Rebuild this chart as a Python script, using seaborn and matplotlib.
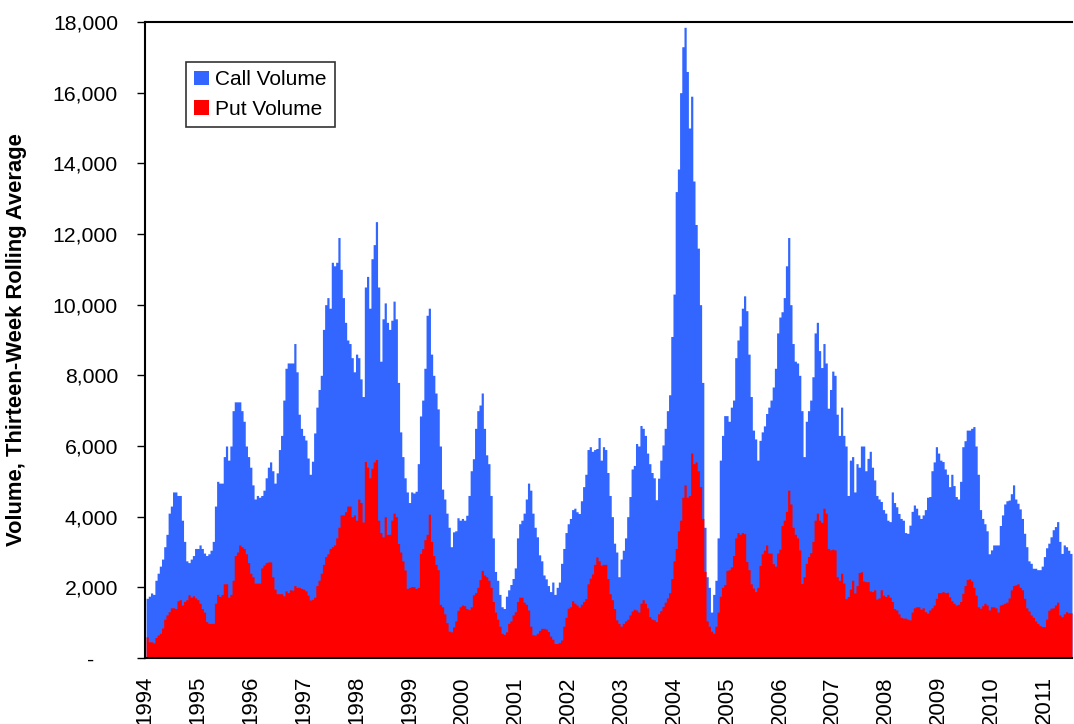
import numpy as np
import pandas as pd
import seaborn as sns
import matplotlib.pyplot as plt
from matplotlib.patches import Patch
from matplotlib.ticker import FuncFormatter

# 13-week rolling average volume, in thousands
# two values per month (first half / second half), Jan 1994 - Jun 2011
call_k = [
    1.69, 1.75, 1.84, 1.8, 2.2, 2.4, 2.6, 2.8, 3.15, 3.5, 4.1, 4.3, 4.7, 4.7, 4.6, 4.6, 3.9, 3.3, 2.75, 2.7, 2.8, 2.9, 3.1, 3.1,  # 1994
    3.2, 3.1, 2.97, 2.9, 2.95, 3.05, 3.3, 4.3, 5.0, 4.95, 4.95, 5.7, 6.0, 5.6, 6.0, 7.0, 7.25, 7.25, 7.25, 7.0, 6.7, 6.0, 5.7, 5.4,  # 1995
    4.9, 4.5, 4.6, 4.55, 4.6, 4.75, 5.1, 5.4, 5.55, 5.3, 4.95, 5.24, 5.9, 6.3, 7.3, 8.2, 8.35, 8.35, 8.35, 8.9, 8.1, 6.9, 6.5, 6.3,  # 1996
    6.17, 5.66, 5.2, 5.57, 6.37, 7.1, 7.6, 8.0, 9.3, 10.0, 10.2, 9.9, 11.2, 11.1, 11.2, 11.9, 11.0, 10.2, 9.5, 9.0, 8.9, 8.5, 8.1, 8.6,  # 1997
    8.5, 7.9, 7.4, 10.5, 10.8, 9.9, 11.3, 11.7, 12.35, 10.5, 8.4, 9.6, 10.05, 9.5, 9.3, 9.56, 10.1, 9.6, 7.8, 6.4, 5.7, 5.1, 4.7, 4.4,  # 1998
    4.7, 4.67, 4.72, 5.5, 6.85, 7.3, 8.2, 9.7, 9.9, 8.6, 8.0, 7.5, 7.05, 6.0, 4.78, 4.5, 4.1, 3.7, 3.15, 3.57, 3.6, 3.97, 3.9, 3.95,  # 1999
    3.9, 4.04, 4.6, 5.3, 5.64, 6.5, 7.0, 7.16, 7.5, 6.5, 5.75, 5.5, 4.6, 3.4, 2.45, 2.2, 1.8, 1.45, 1.4, 1.75, 1.93, 2.08, 2.25, 2.55,  # 2000
    3.4, 3.8, 3.9, 4.1, 4.5, 4.95, 4.75, 4.1, 3.7, 3.43, 2.92, 2.75, 2.35, 2.24, 2.05, 1.88, 2.15, 1.8, 2.0, 2.15, 2.68, 3.1, 3.55, 3.8,  # 2001
    3.95, 4.2, 4.24, 4.14, 4.09, 4.45, 4.85, 5.2, 5.9, 5.98, 5.85, 5.9, 5.93, 6.24, 5.6, 5.98, 5.9, 5.25, 4.6, 4.0, 3.25, 3.0, 2.3, 2.8,  # 2002
    3.05, 3.4, 4.0, 4.57, 5.35, 5.45, 6.07, 6.0, 6.58, 6.5, 6.3, 5.8, 5.5, 5.25, 5.1, 4.48, 5.09, 5.6, 6.03, 6.5, 7.0, 7.45, 9.1, 10.3,  # 2003
    13.2, 13.84, 16.0, 17.3, 17.85, 16.6, 15.0, 15.9, 13.5, 12.27, 11.6, 10.0, 7.8, 3.7, 2.3, 2.0, 1.3, 1.8, 2.2, 3.4, 5.6, 6.3, 6.86, 6.86,  # 2004
    6.7, 7.1, 7.3, 8.5, 9.0, 9.4, 9.9, 10.25, 9.83, 8.6, 7.4, 6.45, 6.2, 5.6, 6.16, 6.4, 6.57, 6.92, 7.1, 7.3, 7.67, 8.2, 9.2, 9.65,  # 2005
    9.8, 10.2, 11.1, 11.9, 10.0, 8.9, 8.4, 8.35, 8.0, 7.0, 5.7, 6.7, 7.0, 7.3, 7.96, 9.2, 9.5, 8.7, 8.22, 8.9, 8.35, 7.07, 7.6, 8.12,  # 2006
    8.0, 6.9, 6.3, 7.1, 6.3, 6.0, 4.6, 5.6, 5.7, 4.7, 5.5, 5.4, 6.0, 6.0, 5.3, 5.65, 5.85, 5.4, 5.04, 4.6, 4.5, 4.43, 4.2, 4.1,  # 2007
    3.9, 3.86, 4.7, 4.4, 4.28, 4.09, 3.95, 3.9, 3.55, 3.53, 3.76, 4.15, 4.33, 4.24, 4.05, 3.95, 4.05, 4.2, 4.55, 4.57, 5.3, 5.55, 5.98, 5.8,  # 2008
    5.6, 5.56, 5.35, 5.2, 4.85, 5.2, 4.88, 4.57, 4.5, 5.0, 5.98, 6.15, 6.45, 6.45, 6.5, 6.55, 6.0, 5.2, 4.2, 3.95, 3.8, 3.6, 2.95, 3.06,  # 2009
    3.2, 3.2, 3.2, 3.75, 4.05, 4.36, 4.45, 4.47, 4.65, 4.9, 4.5, 4.38, 4.22, 3.95, 3.53, 3.15, 2.75, 2.68, 2.54, 2.54, 2.5, 2.5, 2.6, 2.87,  # 2010
    3.12, 3.25, 3.43, 3.63, 3.72, 3.86, 3.3, 2.96, 3.2, 3.15, 3.05, 2.96,  # 2011
]

put_k = [
    0.6, 0.46, 0.46, 0.43, 0.58, 0.65, 0.7, 0.85, 1.1, 1.22, 1.31, 1.42, 1.42, 1.4, 1.62, 1.65, 1.5, 1.6, 1.65, 1.79, 1.72, 1.76, 1.7, 1.65,  # 1994
    1.55, 1.4, 1.3, 1.03, 0.98, 0.98, 0.98, 1.55, 1.8, 1.74, 1.8, 2.1, 2.1, 1.72, 1.8, 2.2, 2.9, 3.0, 3.2, 3.15, 3.1, 2.95, 2.7, 2.4,  # 1995
    2.3, 2.12, 2.12, 2.12, 2.55, 2.63, 2.7, 2.72, 2.72, 2.3, 1.95, 1.82, 1.82, 1.82, 1.76, 1.9, 1.85, 1.93, 1.92, 2.05, 2.0, 2.0, 1.97, 1.95,  # 1996
    1.9, 1.78, 1.64, 1.66, 1.72, 2.05, 2.2, 2.4, 2.65, 2.87, 2.95, 3.1, 3.15, 3.2, 3.4, 3.7, 4.05, 4.05, 4.14, 4.3, 4.3, 4.0, 4.05, 3.9,  # 1997
    4.5, 4.4, 3.85, 5.56, 5.4, 5.1, 5.37, 5.55, 5.62, 3.9, 3.55, 3.43, 4.0, 3.5, 3.5, 3.9, 4.1, 4.0, 3.24, 3.0, 2.75, 2.49, 1.97, 2.0,  # 1998
    2.02, 2.02, 1.97, 2.0, 2.96, 3.1, 3.35, 3.5, 4.07, 3.3, 2.9, 2.65, 2.5, 1.52, 1.45, 1.25, 1.0, 0.76, 0.74, 0.88, 1.05, 1.35, 1.45, 1.5,  # 1999
    1.48, 1.4, 1.37, 1.45, 1.79, 1.85, 2.0, 2.22, 2.48, 2.35, 2.3, 2.2, 2.0, 1.6, 1.3, 1.1, 0.9, 0.7, 0.67, 0.74, 0.98, 1.05, 1.22, 1.31,  # 2000
    1.6, 1.72, 1.72, 1.58, 1.52, 1.36, 0.9, 0.66, 0.65, 0.7, 0.78, 0.84, 0.84, 0.82, 0.75, 0.62, 0.53, 0.41, 0.41, 0.44, 0.51, 0.9, 1.15, 1.41,  # 2001
    1.45, 1.62, 1.55, 1.5, 1.44, 1.52, 1.6, 1.68, 2.1, 2.26, 2.38, 2.65, 2.86, 2.75, 2.63, 2.65, 2.65, 2.25, 1.82, 1.65, 1.4, 1.08, 0.98, 0.9,  # 2002
    0.98, 1.05, 1.1, 1.22, 1.33, 1.38, 1.36, 1.3, 1.55, 1.65, 1.55, 1.42, 1.17, 1.1, 1.08, 1.03, 1.25, 1.34, 1.46, 1.58, 1.7, 1.85, 2.25, 2.75,  # 2003
    3.1, 3.6, 3.9, 4.55, 4.9, 4.55, 4.6, 5.8, 5.5, 5.55, 5.3, 4.85, 3.95, 2.45, 1.05, 0.9, 0.76, 0.7, 0.9, 1.3, 1.75, 2.0, 2.08, 2.48,  # 2004
    2.5, 2.58, 2.9, 3.4, 3.55, 3.5, 3.55, 3.52, 2.73, 2.5, 2.1, 1.98, 1.88, 2.0, 2.62, 2.95, 3.05, 3.2, 2.97, 2.97, 2.67, 2.6, 2.97, 3.08,  # 2005
    3.75, 3.9, 4.15, 4.75, 4.36, 3.7, 3.5, 3.4, 3.06, 2.11, 2.3, 2.68, 2.87, 2.98, 3.3, 3.9, 4.1, 3.9, 3.84, 4.24, 4.1, 3.1, 3.06, 3.08,  # 2006
    3.06, 2.3, 2.2, 2.4, 2.12, 1.68, 1.74, 1.95, 2.2, 1.84, 2.05, 2.42, 2.44, 2.18, 2.16, 2.16, 1.9, 1.88, 1.93, 1.67, 1.7, 1.93, 1.78, 1.74,  # 2007
    1.8, 1.72, 1.6, 1.4, 1.36, 1.25, 1.15, 1.13, 1.13, 1.1, 1.08, 1.3, 1.42, 1.45, 1.45, 1.38, 1.42, 1.31, 1.27, 1.36, 1.42, 1.5, 1.69, 1.85,  # 2008
    1.85, 1.88, 1.85, 1.86, 1.73, 1.62, 1.55, 1.5, 1.52, 1.6, 1.83, 2.05, 2.22, 2.24, 2.18, 2.0, 1.78, 1.45, 1.41, 1.48, 1.55, 1.5, 1.36, 1.45,  # 2009
    1.45, 1.42, 1.3, 1.5, 1.52, 1.55, 1.58, 1.7, 1.93, 2.05, 2.07, 2.1, 2.0, 1.93, 1.69, 1.42, 1.33, 1.22, 1.15, 1.05, 0.98, 0.92, 0.89, 0.89,  # 2010
    1.1, 1.35, 1.41, 1.42, 1.5, 1.58, 1.22, 1.17, 1.25, 1.31, 1.28, 1.28,  # 2011
]

year_labels = [str(y) for y in range(1994, 2012)]
series_names = ['Call Volume', 'Put Volume']
BLUE = '#3366FF'
RED = '#FF0000'

# half-month bins expressed as decimal years
n = len(call_k)
edges = 1994 + np.arange(n + 1) / 24
vol = pd.DataFrame({
    'mid': (edges[:-1] + edges[1:]) / 2,
    'call': np.array(call_k) * 1000,
    'put': np.array(put_k) * 1000,
})

plt.rcParams['font.family'] = ['Liberation Sans', 'DejaVu Sans']

fig = plt.figure(figsize=(10.74, 7.24), dpi=100)
ax = fig.add_axes([145 / 1074, 1 - 658 / 724, 927 / 1074, 636 / 724])

sns.histplot(data=vol, x='mid', weights='call', bins=list(edges), element='step', fill=True,
             color=BLUE, alpha=1, linewidth=0, ax=ax)
sns.histplot(data=vol, x='mid', weights='put', bins=list(edges), element='step', fill=True,
             color=RED, alpha=1, linewidth=0, ax=ax)

ax.set_xlim(edges[0], edges[-1])
ax.set_ylim(0, 18000)
ax.set_yticks(np.arange(0, 18001, 2000))
ax.yaxis.set_major_formatter(FuncFormatter(lambda v, p: f'{v:,.0f}' if v else '-    '))
ax.tick_params(axis='y', direction='out', length=6, width=1, pad=13.5, labelsize=15.3)

ax.set_xticks(np.arange(1994, 2012) - 0.02)
ax.set_xticklabels(year_labels, rotation=90, va='top', ha='center')
ax.tick_params(axis='x', length=0, pad=13, labelsize=16)

for s in ['left', 'bottom', 'top']:
    ax.spines[s].set_color('black')
    ax.spines[s].set_linewidth(1.5)
ax.spines['right'].set_visible(False)

ax.set_xlabel('')
ax.set_ylabel('Volume, Thirteen-Week Rolling Average', fontsize=15.8, fontweight='bold')
ax.yaxis.set_label_coords(-0.127, 0.5)

handles = [Patch(facecolor=BLUE, edgecolor='none'), Patch(facecolor=RED, edgecolor='none')]
leg = ax.legend(handles, series_names, loc='upper left', bbox_to_anchor=(0.044, 0.937),
                borderaxespad=0, fontsize=15, frameon=True, fancybox=False,
                edgecolor='black', handlelength=0.7, handleheight=0.7,
                handletextpad=0.3, labelspacing=0.5, borderpad=0.4)
leg.get_frame().set_linewidth(1.2)

fig.savefig('out.png', dpi=100)
